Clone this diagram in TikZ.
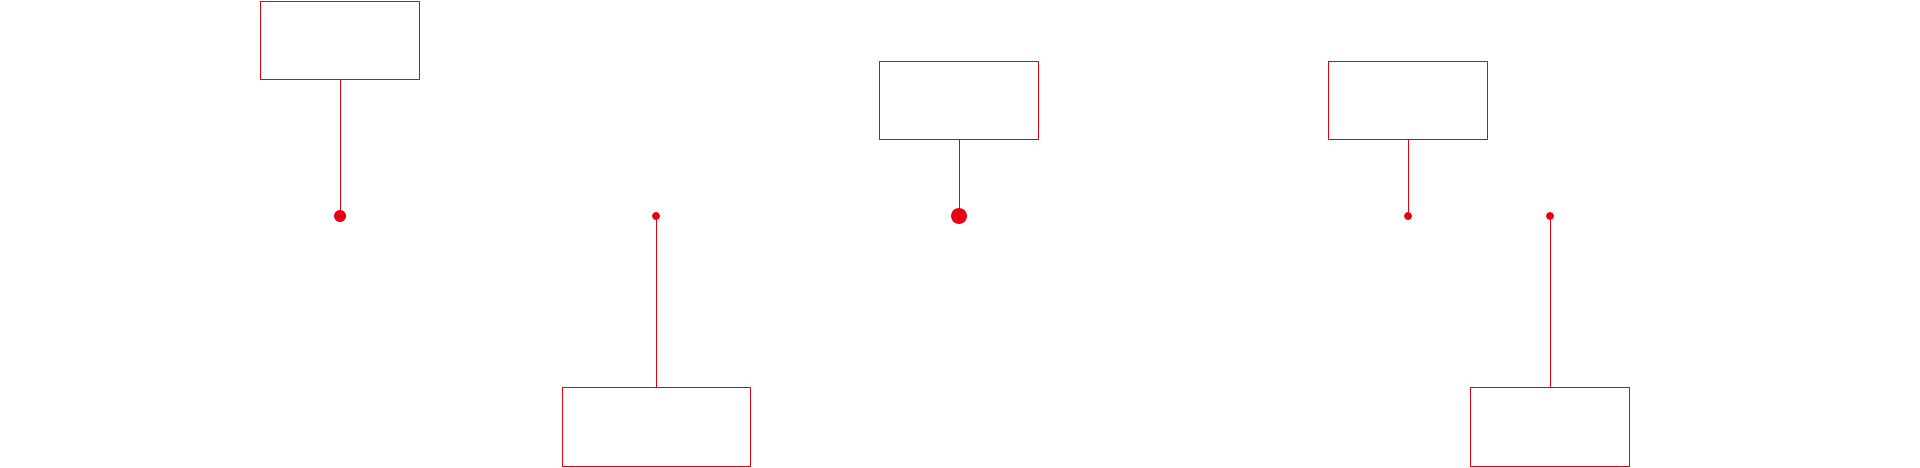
\documentclass[tikz,border=0pt]{standalone}
\usepackage{tikz}
\usetikzlibrary{calc,positioning}
\definecolor{callred}{RGB}{230,0,18}

\begin{document}
\begin{tikzpicture}[x=1pt,y=-1pt,line join=round,
  box/.style={draw=callred,line width=1pt,rectangle,inner sep=0pt,minimum height=78.7pt},
  dot/.style={circle,fill=callred,inner sep=0pt},
  link/.style={draw=callred,line width=1pt}]
\useasboundingbox (0,0) rectangle (1920,468);
% boxes
\foreach \n/\x/\y/\w in {1/340/40.65/159.4,2/656/426.8/188,3/959/100.65/159,4/1408/100.65/159,5/1550/426.8/159}{\node[box,minimum width=\w pt] (b\n) at (\x,\y) {};}
% dots
\foreach \n/\x/\r in {1/340/6,2/656/4,3/959/8,4/1408/4,5/1550/4}{\node[dot,minimum size={2*\r pt}] (d\n) at (\x,216) {};}
% connectors
\foreach \n in {1,...,5}{\draw[link] (d\n) -- (b\n);}
\end{tikzpicture}
\end{document}
